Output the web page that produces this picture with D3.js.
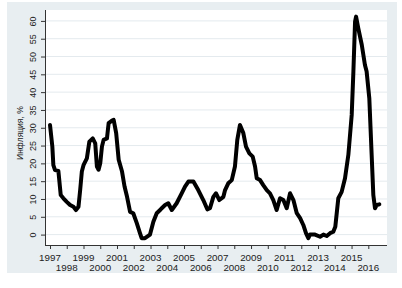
<!DOCTYPE html>
<html>
<head>
<meta charset="utf-8">
<script src="https://cdn.jsdelivr.net/npm/d3@7"></script>
<style>
	body { margin: 0; background: #ffffff; }
	text { font-family: "Liberation Sans", Arial, sans-serif; fill: #222; }
</style>
</head>
<body>
<svg id="graph"></svg>
<script>
var screenWidth = 402;
var screenHeight = 288;

// inflation, %
var dates = [1997.00, 1997.14, 1997.20, 1997.30, 1997.50, 1997.64, 1997.80, 1998.00, 1998.20, 1998.40,
	1998.55, 1998.70, 1998.80, 1998.90, 1999.00, 1999.20, 1999.35, 1999.55, 1999.70, 1999.80,
	1999.90, 2000.00, 2000.10, 2000.20, 2000.40, 2000.50, 2000.70, 2000.80, 2000.95, 2001.10,
	2001.30, 2001.45, 2001.60, 2001.78, 2001.97, 2002.18, 2002.37, 2002.47, 2002.67, 2002.97,
	2003.17, 2003.37, 2003.57, 2003.67, 2003.87, 2004.06, 2004.27, 2004.56, 2004.86, 2005.06,
	2005.26, 2005.56, 2005.85, 2006.15, 2006.39, 2006.55, 2006.75, 2006.91, 2007.11, 2007.35,
	2007.45, 2007.64, 2007.85, 2008.04, 2008.18, 2008.34, 2008.54, 2008.70, 2008.90, 2009.10,
	2009.24, 2009.34, 2009.54, 2009.73, 2009.94, 2010.13, 2010.33, 2010.53, 2010.73, 2010.93,
	2011.13, 2011.33, 2011.53, 2011.73, 2011.93, 2012.12, 2012.28, 2012.42, 2012.52, 2012.82,
	2013.12, 2013.32, 2013.52, 2013.72, 2013.91, 2014.03, 2014.21, 2014.41, 2014.61, 2014.81,
	2015.01, 2015.11, 2015.21, 2015.27, 2015.40, 2015.61, 2015.80, 2015.90, 2016.06, 2016.20,
	2016.30, 2016.40, 2016.50, 2016.66];
var inflation = [30.8, 24.7, 19.5, 18.1, 17.9, 11.1, 10.2, 9.2, 8.3, 7.8,
	6.9, 7.8, 12.5, 17.7, 19.5, 21.4, 26.1, 27.0, 25.6, 19.1,
	18.2, 20.0, 24.7, 26.6, 27.0, 31.3, 32.0, 32.2, 28.5, 21.0,
	17.7, 13.5, 10.6, 6.4, 6.0, 3.2, 0.4, -1.0, -1.0, 0.0,
	3.6, 6.0, 6.9, 7.4, 8.3, 8.8, 6.9, 8.8, 11.6, 13.5,
	14.9, 14.9, 12.5, 9.7, 7.1, 7.4, 10.6, 11.6, 9.7, 10.6,
	12.5, 14.4, 15.3, 19.1, 26.6, 30.8, 28.5, 24.7, 22.8, 21.9,
	19.1, 15.8, 15.3, 13.9, 12.5, 11.6, 9.7, 6.9, 10.2, 9.7,
	7.4, 11.6, 9.7, 6.0, 4.6, 2.7, 0.4, -1.0, 0.0, 0.0,
	-0.6, 0.0, -0.4, 0.4, 0.8, 2.2, 10.2, 12.0, 15.8, 22.4,
	33.6, 45.8, 59.8, 61.2, 58.0, 53.3, 47.6, 45.8, 38.3, 22.4,
	11.1, 7.4, 8.3, 8.5];

var years = d3.range(1997, 2017);
var yTicks = [0, 5, 10, 15, 20, 25, 30, 35, 40, 45, 50, 55, 60];
var yTitle = 'Инфляция, %';

var svg = d3.select('#graph')
	.attr('width', screenWidth)
	.attr('height', screenHeight);

// outer graph region + plot region
svg.append('rect')
	.attr('x', 7).attr('y', 2)
	.attr('width', 390).attr('height', 271)
	.attr('fill', '#e8eef1');
svg.append('rect')
	.attr('x', 45).attr('y', 10)
	.attr('width', 342).attr('height', 235)
	.attr('fill', '#ffffff');

var x = d3.scaleLinear().domain([1997, 2016]).range([50, 368.3]);
var y = d3.scaleLinear().domain([0, 60]).range([234.6, 20.9]);

// grid
svg.append('g')
	.selectAll('line')
	.data(yTicks)
	.enter()
	.append('line')
	.attr('x1', 45)
	.attr('x2', 387)
	.attr('y1', function(d) { return y(d); })
	.attr('y2', function(d) { return y(d); })
	.attr('stroke', '#e4eaee')
	.attr('stroke-width', 1);

// y axis
var yAxis = svg.append('g')
	.attr('transform', 'translate(45,0)')
	.call(d3.axisLeft(y).tickValues(yTicks).tickSize(4).tickFormat(d3.format('d')));
yAxis.select('.domain').remove();
yAxis.selectAll('line').attr('stroke', '#333');
yAxis.selectAll('text')
	.attr('font-size', 9)
	.attr('text-anchor', 'middle')
	.attr('x', 0)
	.attr('y', 0)
	.attr('dy', 0)
	.attr('transform', 'translate(-9.5,0) rotate(-90)');
svg.append('line')
	.attr('x1', 45.5).attr('x2', 45.5)
	.attr('y1', 10).attr('y2', 245)
	.attr('stroke', '#333');

// x axis
var xAxis = svg.append('g')
	.attr('transform', 'translate(0,245)')
	.call(d3.axisBottom(x).tickValues(years).tickSize(4).tickFormat(''));
xAxis.select('.domain').remove();
xAxis.selectAll('line').attr('stroke', '#333');
svg.append('line')
	.attr('x1', 45).attr('x2', 387)
	.attr('y1', 245.5).attr('y2', 245.5)
	.attr('stroke', '#333');

svg.append('g')
	.selectAll('text')
	.data(years)
	.enter()
	.append('text')
	.attr('x', function(d) { return x(d); })
	.attr('y', function(d, i) { return i % 2 == 0 ? 260.5 : 270.5; })
	.attr('text-anchor', 'middle')
	.attr('font-size', 9.8)
	.text(function(d) { return d; });

svg.append('text')
	.attr('transform', 'translate(23,' + y(28.5) + ') rotate(-90)')
	.attr('text-anchor', 'middle')
	.attr('font-size', 8.5)
	.text(yTitle);

// line
var line = d3.line()
	.x(function(d) { return x(d[0]); })
	.y(function(d) { return y(d[1]); });

svg.append('path')
	.datum(d3.zip(dates, inflation))
	.attr('d', line)
	.attr('fill', 'none')
	.attr('stroke', '#000')
	.attr('stroke-width', 4)
	.attr('stroke-linejoin', 'round')
	.attr('stroke-linecap', 'round');
</script>
</body>
</html>
